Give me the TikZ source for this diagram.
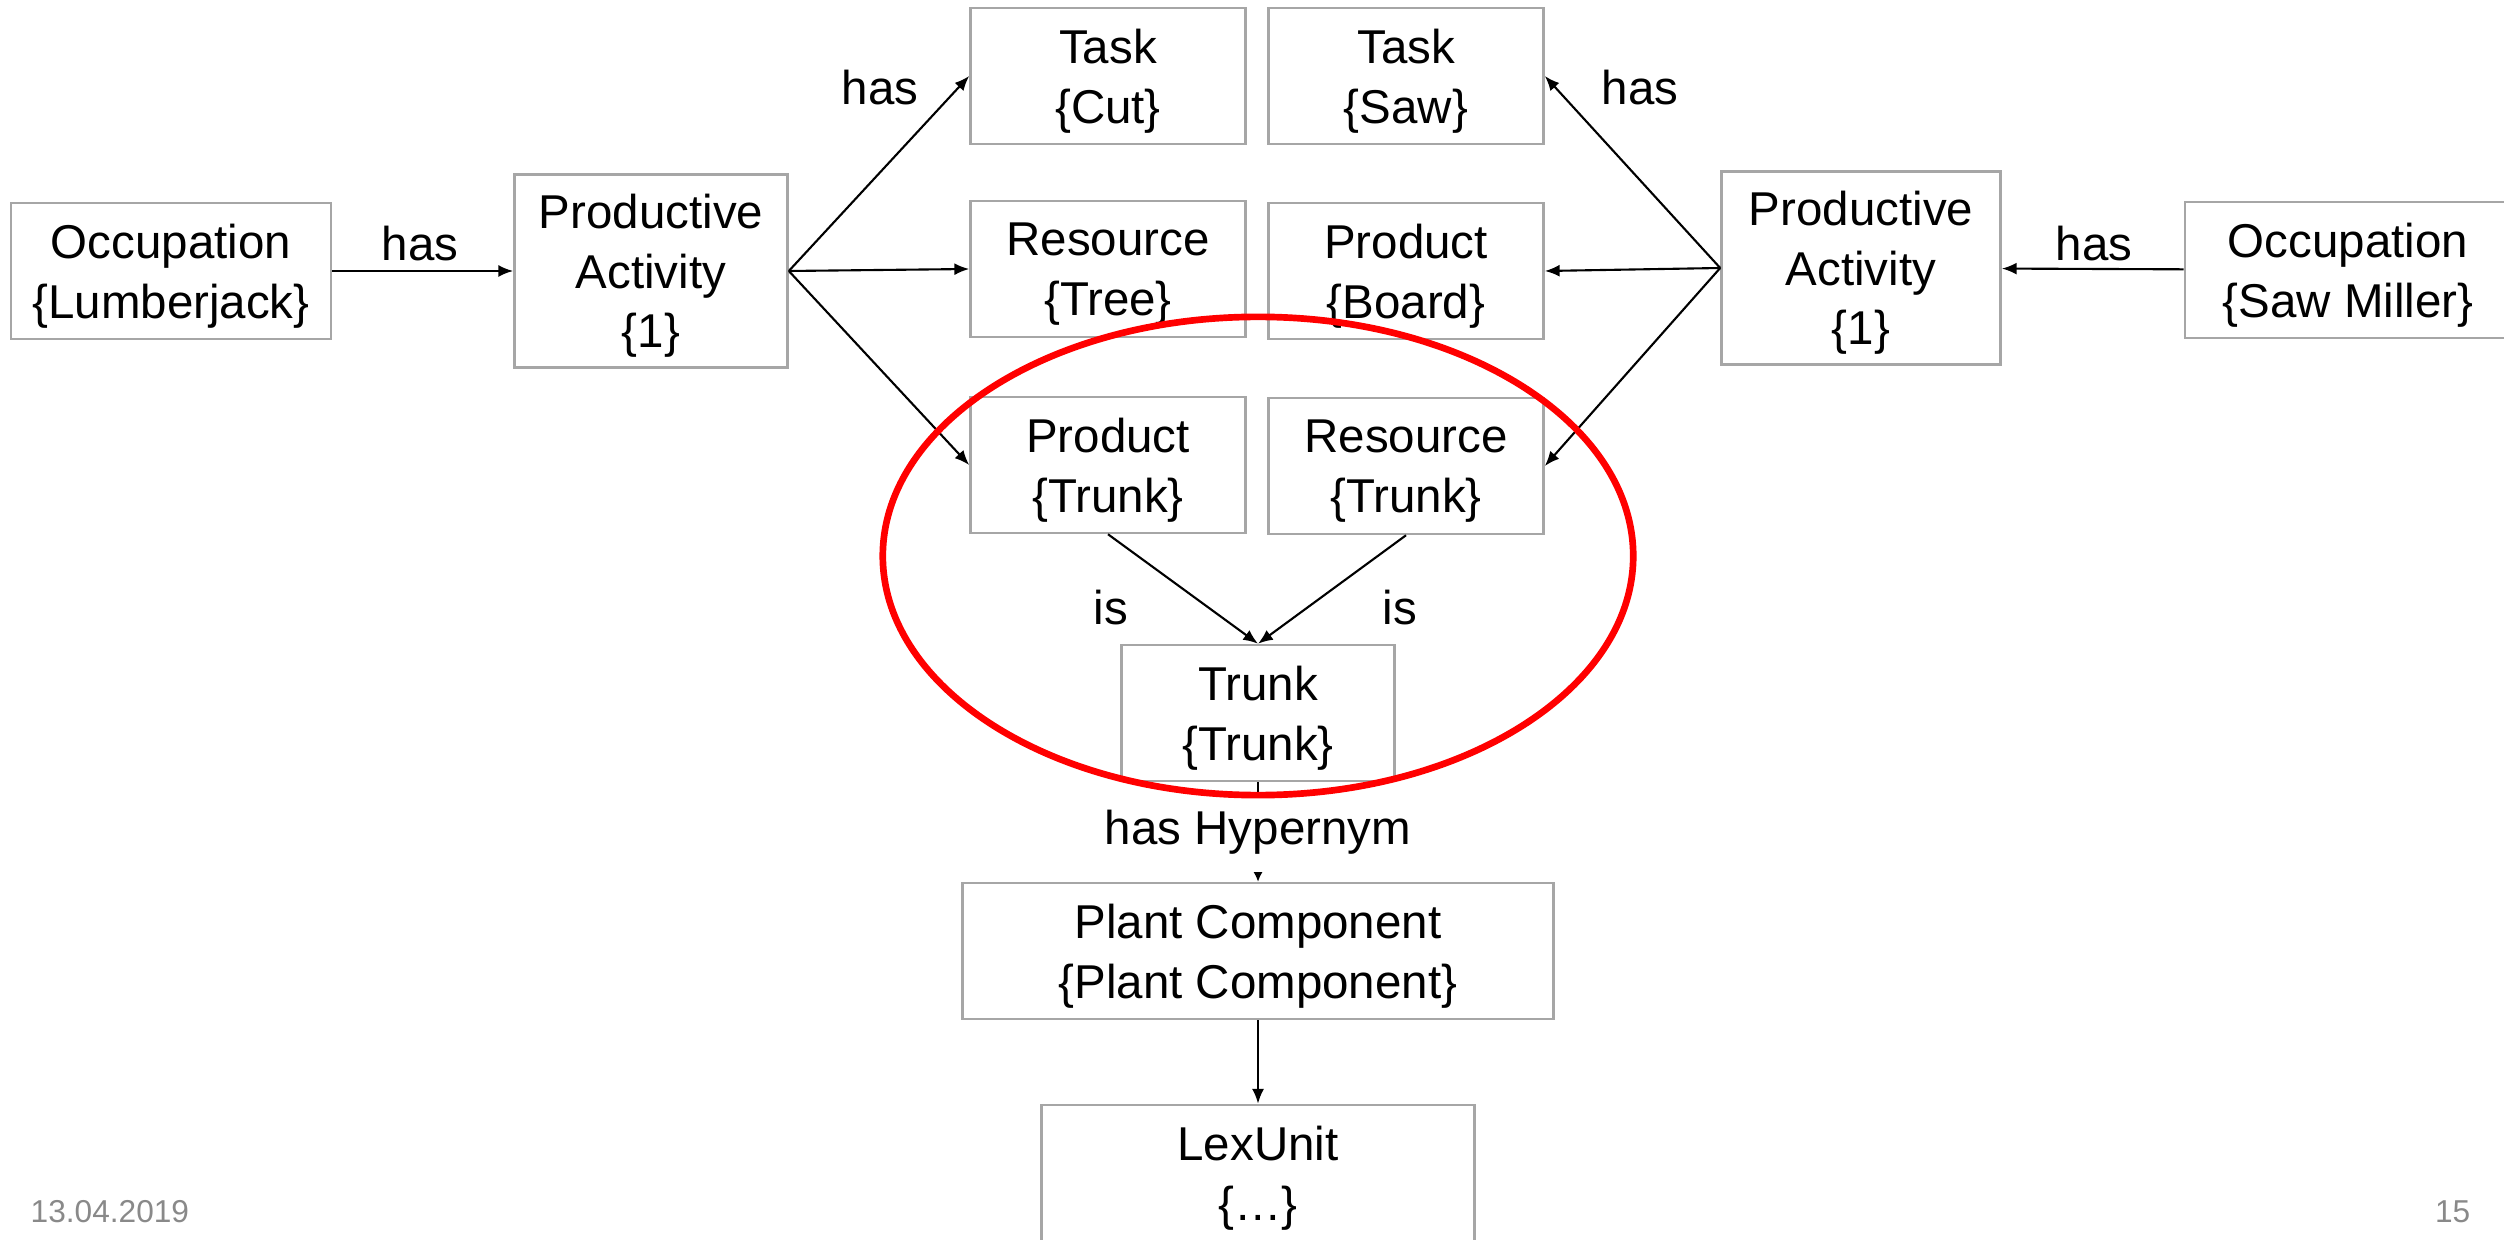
\documentclass[tikz,border=0pt]{standalone}
\usepackage{fontspec}
\setmainfont{Liberation Sans}
\usetikzlibrary{arrows.meta}
\definecolor{boxgray}{HTML}{A6A6A6}
\definecolor{footgray}{HTML}{898989}
\begin{document}
\begin{tikzpicture}[x=0.01cm, y=-0.01cm,
  bx/.style={draw=boxgray, line width=0.7pt, fill=white, align=center, inner sep=0pt,
    text depth=-0.5pt, minimum width=2.75cm, minimum height=1.36cm, font=\fontsize{13.5}{17}\selectfont},
  lbl/.style={inner sep=1pt, font=\fontsize{13.5}{17}\selectfont},
  rel/.style={line width=0.6pt, -{Latex[length=4.2pt,width=3.4pt]}},
  relsmall/.style={line width=0.6pt, -{Latex[length=3.4pt,width=3.4pt]}},
  foot/.style={inner sep=0pt, text=footgray, font=\fontsize{9}{11}\selectfont}]
\useasboundingbox (0,0) rectangle (2504,1240);
\clip (0,0) rectangle (2504,1240);
\node[bx, minimum width=3.2cm] (occ1) at (171,271) {Occupation\\\{Lumberjack\}};
\node[bx, minimum width=2.73cm, minimum height=1.93cm] (pa1) at (651,271) {Productive\\Activity\\\{1\}};
\node[bx] (task1) at (1108,76) {Task\\\{Cut\}};
\node[bx] (task2) at (1406,76) {Task\\\{Saw\}};
\node[bx] (res1) at (1108,269) {Resource\\\{Tree\}};
\node[bx] (prod1) at (1406,271) {Product\\\{Board\}};
\node[bx] (prod2) at (1108,465) {Product\\\{Trunk\}};
\node[bx] (res2) at (1406,466) {Resource\\\{Trunk\}};
\node[bx, minimum width=2.73cm] (trunk) at (1258,713) {Trunk\\\{Trunk\}};
\node[bx, minimum width=5.91cm] (plant) at (1258,951) {Plant Component\\\{Plant Component\}};
\node[bx, minimum width=4.33cm] (lex) at (1258,1173) {LexUnit\\\{…\}};
\node[bx, minimum width=2.79cm, minimum height=1.93cm] (pa2) at (1861,268) {Productive\\Activity\\\{1\}};
\node[bx, minimum width=3.26cm] (occ2) at (2348,270) {Occupation\\\{Saw Miller\}};
% left side
\draw[rel] (occ1) -- (pa1);
\draw[rel] (pa1.east) -- (task1.west);
\draw[rel] (pa1.east) -- (res1.west);
\draw[rel] (pa1.east) -- (prod2.west);
% right side
\draw[rel] (occ2) -- (pa2);
\draw[rel] (pa2.west) -- (task2.east);
\draw[rel] (pa2.west) -- (prod1.east);
\draw[rel] (pa2.west) -- (res2.east);
% trunk
\draw[rel] (prod2.south) -- (trunk.north);
\draw[rel] (res2.south) -- (trunk.north);
\draw[relsmall] (trunk) -- node[lbl, fill=white, inner xsep=2pt, inner ysep=5.2pt] (hyp) {has Hypernym} (plant);
\draw[rel] (plant) -- (lex);
% labels
\node[lbl] (has1) at (420,244) {has};
\node[lbl] (has2) at (880,88) {has};
\node[lbl] (has3) at (1640,88) {has};
\node[lbl] (has4) at (2094,244) {has};
\node[lbl] (is1) at (1111,608) {is};
\node[lbl] (is2) at (1400,608) {is};
\draw[red, line width=1.9pt] (1258,556) ellipse [x radius=3.75cm, y radius=2.39cm];
\node[foot, anchor=west] (date) at (30,1212) {13.04.2019};
\node[foot, anchor=east] (page) at (2471,1212) {15};
\end{tikzpicture}
\end{document}
